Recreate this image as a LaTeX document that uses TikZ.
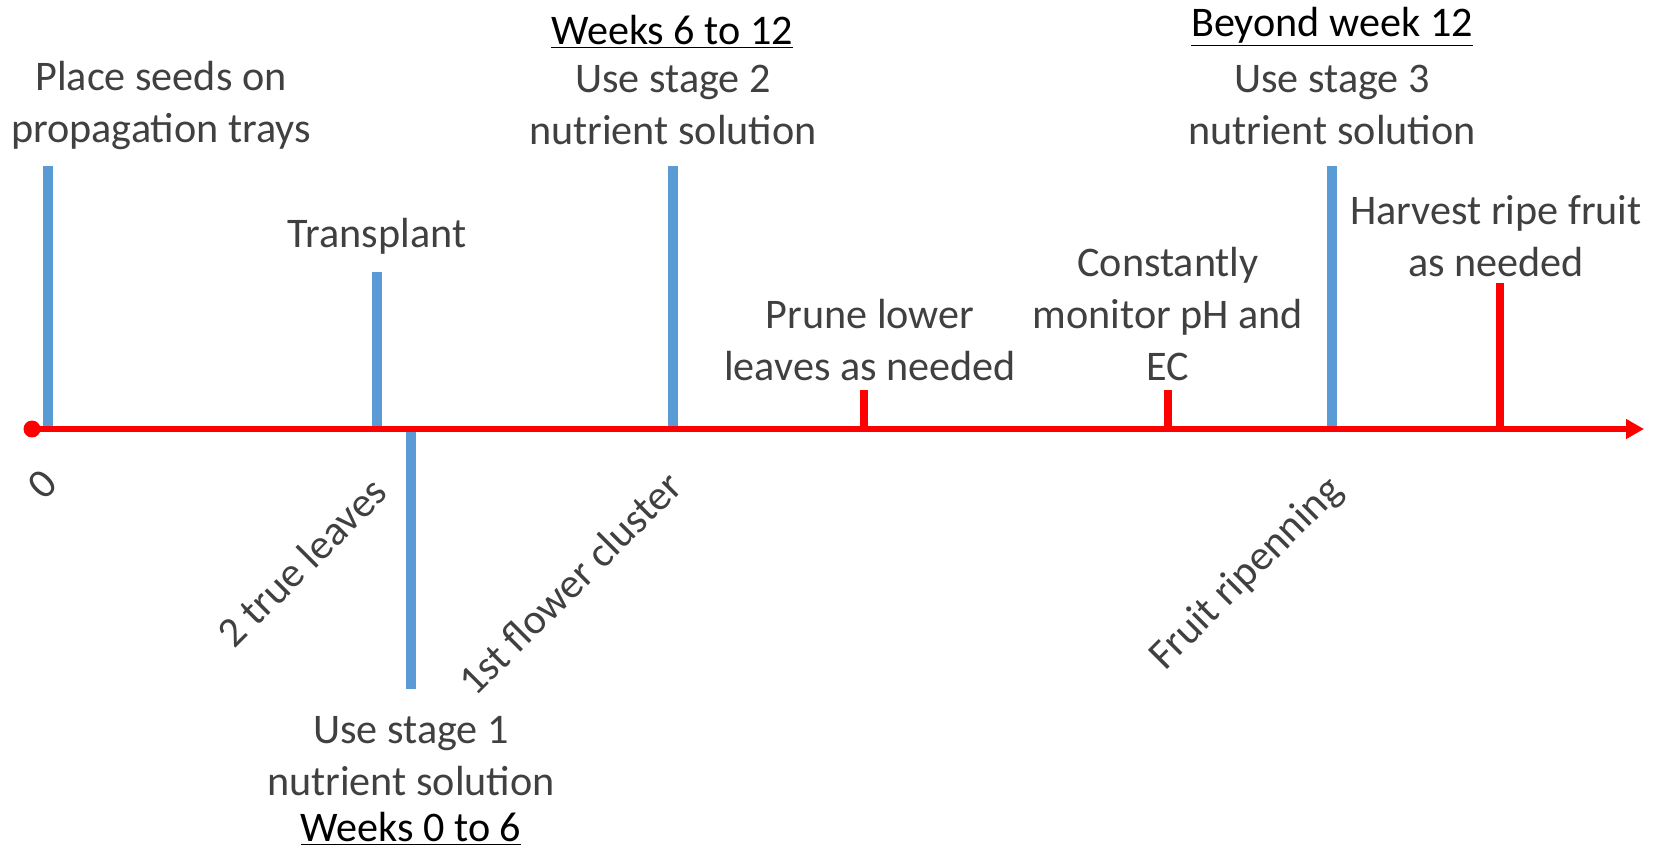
\documentclass[tikz,border=0pt]{standalone}
\usepackage{fontspec}
\setmainfont{Carlito}
\usetikzlibrary{positioning,arrows.meta}
\definecolor{axisred}  {HTML}{FF0000}
\definecolor{stageblue}{HTML}{5B9BD5}
\definecolor{labelgrey}{HTML}{404040}
\tikzset{
  every node/.style={font=\fontsize{24}{29.6}\selectfont, text=labelgrey, inner sep=0pt},
  % --- nodes
  lab/.style     = {align=center},
  head/.style    = {text=black},
  slanted/.style = {rotate=45},
  % --- lines
  timeaxis/.style = {line width=3.4pt, draw=axisred,
                     -{Triangle[length=0.36cm,width=0.38cm]}},
  bluebar/.style  = {line width=5.3pt, draw=stageblue},
  redbar/.style   = {line width=5pt, draw=axisred},
}
\begin{document}
\begin{tikzpicture}[x=0.02cm,y=-0.02cm]
  \useasboundingbox (0,0) rectangle (1660,851);
  % markers on the time line
  \foreach \n/\x/\t/\s in {seed/48/166/bluebar, trans/377/272/bluebar,
                           stone/411/689/bluebar, stwo/673/166/bluebar,
                           prune/864/390/redbar, ec/1168/390/redbar,
                           sthree/1332/166/bluebar, harv/1500/283/redbar}
  {
    \coordinate (\n-a) at (\x,429);
    \coordinate (\n-b) at (\x,\t);
    \draw[\s] (\n-a) -- (\n-b);
  }
  \node[circle, fill=axisred, minimum size=0.34cm] (start) at (32,429) {};
  \coordinate (end) at (1644,429);
  \draw[timeaxis] (start.center) -- (end);

  % labels above the line
  \node[lab] (seeds) at (161,105) {Place seeds on\\propagation trays};
  \node[lab] (transplant) at (377,236) {Transplant};
  \node[head] (wk612) at (672,32) {\underline{Weeks 6 to 12}};
  \node[lab] (stage2) at (673,105) {Use stage 2\\nutrient solution};
  \node[lab] (prunel) at (870,340) {Prune lower\\leaves as needed};
  \node[lab] (monitor) at (1168,314) {Constantly\\monitor pH and\\EC};
  \node[head] (wk12) at (1332,27) {\underline{Beyond week 12}};
  \node[lab] (stage3) at (1332,105) {Use stage 3\\nutrient solution};
  \node[lab] (harvest) at (1496,236) {Harvest ripe fruit\\as needed};

  % labels below the line
  \node[slanted] (zero) at (42,484) {0};
  \node[slanted] (leaves) at (302,562) {2 true leaves};
  \node[slanted] (flower) at (570,583) {1st flower cluster};
  \node[slanted] (ripen) at (1247,574) {Fruit ripenning};
  \node[lab] (stage1) at (411,756) {Use stage 1\\nutrient solution};
  \node[head] (wk06) at (411,829) {\underline{Weeks 0 to 6}};
\end{tikzpicture}
\end{document}
